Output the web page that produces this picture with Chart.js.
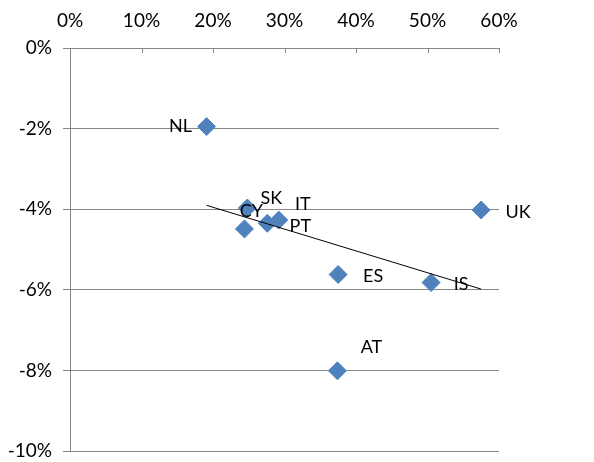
<!DOCTYPE html>
<html>
<head>
<meta charset="utf-8">
<script src="https://cdn.jsdelivr.net/npm/chart.js@4.4.1/dist/chart.umd.min.js"></script>
<style>
  html, body { margin: 0; padding: 0; background: #fff; }
  #wrap { width: 594px; height: 462px; }
</style>
</head>
<body>
<div id="wrap"><canvas id="chart"></canvas></div>
<script>
// datos (x e y en %)
const countries = ['NL', 'CY', 'SK', 'IT', 'PT', 'UK', 'ES', 'IS', 'AT'];
const xValues = [19.1, 24.4, 24.8, 29.2, 27.6, 57.5, 37.5, 50.5, 37.4];
const yValues = [-1.95, -4.49, -3.97, -4.27, -4.35, -4.02, -5.62, -5.82, -8.01];
const xTicks = [0, 10, 20, 30, 40, 50, 60];
const yTicks = [0, -2, -4, -6, -8, -10];

// desplazamiento de cada etiqueta respecto a su punto (px)
const labelOffsets = {
    NL: [-26, 0], CY: [7, -18], SK: [24, -10], IT: [24, -16], PT: [33, 3],
    UK: [37, 2], ES: [35, 2], IS: [30, 2], AT: [34, -24]
};

const points = countries.map((c, i) => ({ x: xValues[i], y: yValues[i] }));

// línea de tendencia (regresión lineal) entre el x mínimo y el máximo
function trendLine() {
    const n = xValues.length;
    const mx = xValues.reduce((a, b) => a + b, 0) / n;
    const my = yValues.reduce((a, b) => a + b, 0) / n;
    let sxy = 0, sxx = 0;
    for (let i = 0; i < n; i++) {
        sxy += (xValues[i] - mx) * (yValues[i] - my);
        sxx += (xValues[i] - mx) * (xValues[i] - mx);
    }
    const b = sxy / sxx;
    const a = my - b * mx;
    const x0 = Math.min(...xValues), x1 = Math.max(...xValues);
    return [{ x: x0, y: a + b * x0 }, { x: x1, y: a + b * x1 }];
}

const FONT = 'Lato, "Open Sans", sans-serif';

const labelPlugin = {
    id: 'pointLabels',
    afterDraw(chart) {
        const ctx = chart.ctx;
        const meta = chart.getDatasetMeta(1);
        const xs = chart.scales.x;
        // marcas del eje x hacia abajo
        ctx.save();
        ctx.strokeStyle = '#868686';
        ctx.lineWidth = 1;
        xTicks.forEach(t => {
            const px = Math.round(xs.getPixelForValue(t)) + 0.5;
            ctx.beginPath();
            ctx.moveTo(px, chart.chartArea.top);
            ctx.lineTo(px, chart.chartArea.top + 5);
            ctx.stroke();
        });
        ctx.fillStyle = '#000';
        ctx.font = '18px ' + FONT;
        ctx.textAlign = 'center';
        ctx.textBaseline = 'middle';
        meta.data.forEach((el, i) => {
            const off = labelOffsets[countries[i]] || [25, 0];
            ctx.fillText(countries[i], el.x + off[0], el.y + off[1]);
        });
        ctx.restore();
    }
};

new Chart(document.getElementById('chart'), {
    type: 'scatter',
    data: {
        datasets: [{
            type: 'line',
            data: trendLine(),
            borderColor: '#000',
            borderWidth: 1,
            pointRadius: 0,
            fill: false,
            order: 0
        }, {
            data: points,
            pointStyle: 'rectRot',
            pointRadius: 9,
            pointHoverRadius: 9,
            backgroundColor: '#4F81BD',
            borderColor: '#4F81BD',
            borderWidth: 1,
            order: 1
        }]
    },
    plugins: [labelPlugin],
    options: {
        responsive: true,
        maintainAspectRatio: false,
        animation: false,
        layout: { padding: { top: 0, right: 95, bottom: 0, left: 0 } },
        scales: {
            x: {
                type: 'linear',
                position: 'top',
                min: 0,
                max: 60,
                afterBuildTicks: s => { s.ticks = xTicks.map(v => ({ value: v })); },
                afterFit: s => { s.height = 48; s.paddingRight = 0; },
                ticks: {
                    color: '#000',
                    font: { size: 19, family: FONT },
                    padding: 16,
                    callback: v => v + '%'
                },
                grid: { drawOnChartArea: false, drawTicks: false },
                border: { color: '#868686' }
            },
            y: {
                type: 'linear',
                min: -10,
                max: 0,
                afterBuildTicks: s => { s.ticks = yTicks.map(v => ({ value: v })); },
                afterFit: s => { s.width = 70; s.paddingTop = 0; s.paddingBottom = 11; },
                ticks: {
                    color: '#000',
                    font: { size: 19, family: FONT },
                    padding: 11,
                    callback: v => v + '%'
                },
                grid: { color: '#868686', tickLength: 7, lineWidth: 1 },
                border: { color: '#868686' }
            }
        },
        plugins: {
            legend: { display: false },
            tooltip: { enabled: false }
        }
    }
});
</script>
</body>
</html>
